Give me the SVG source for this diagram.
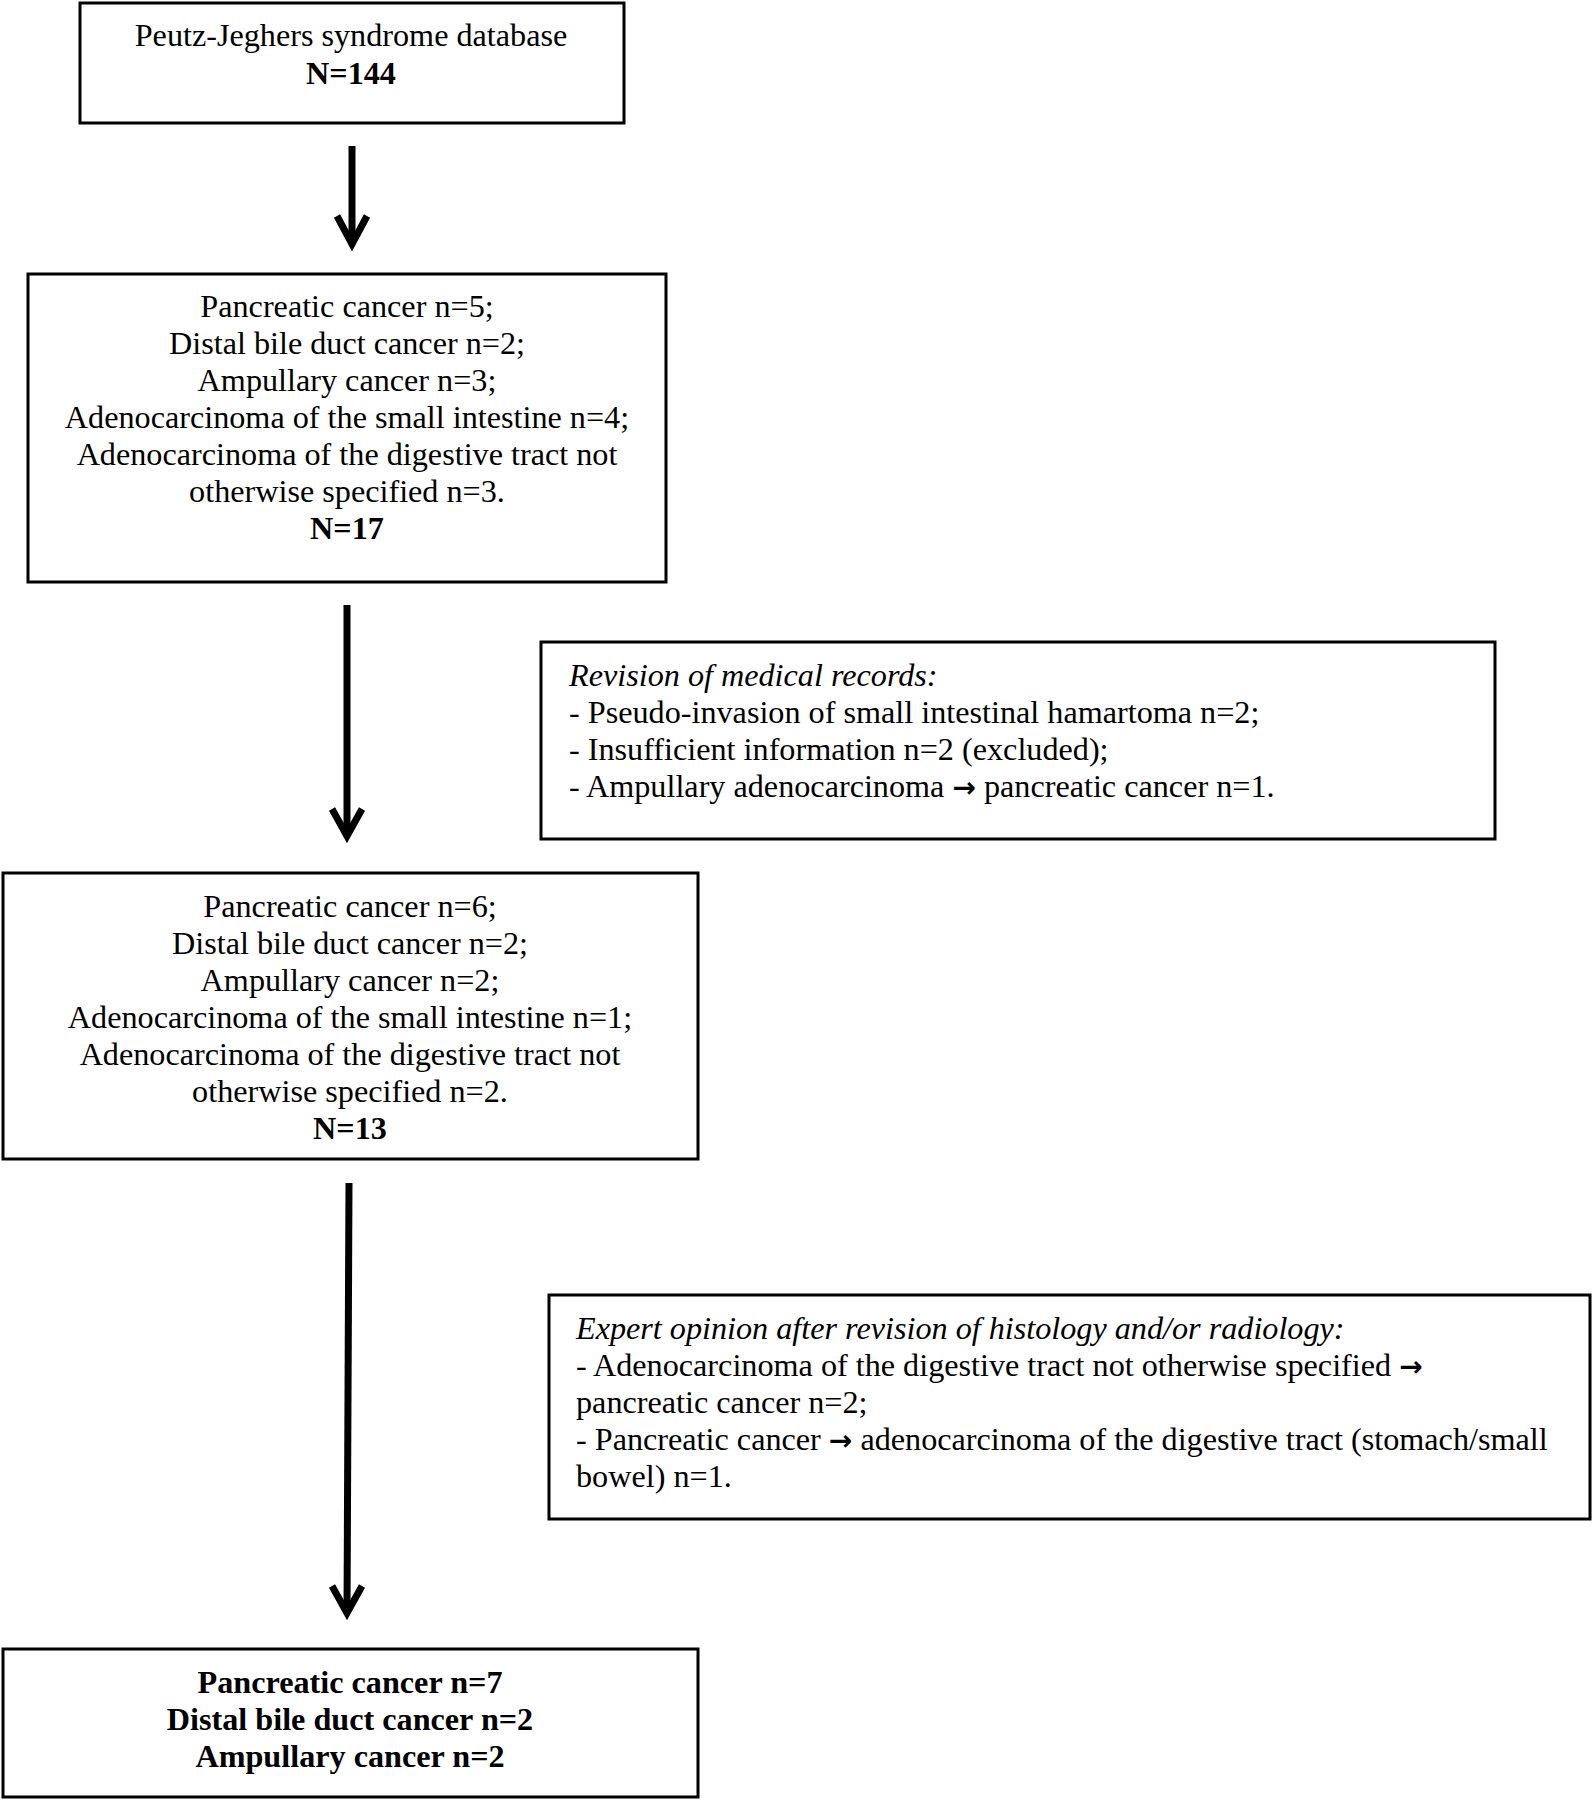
<svg xmlns="http://www.w3.org/2000/svg" width="1593" height="1800" viewBox="0 0 1593 1800">
<style>
.box{fill:#fff;stroke:#000;stroke-width:3}
.t{font-family:"Liberation Serif","Times New Roman",serif;font-size:32.2px;fill:#000}
.c{text-anchor:middle}
.b{font-weight:bold}
.i{font-style:italic}
.ar{font-family:"DejaVu Sans",sans-serif;font-weight:bold;font-size:28px}
.arr{fill:none;stroke:#000;stroke-width:7}
</style>
<rect width="1593" height="1800" fill="#fff"/>
<g id="connectors">
<line class="arr" x1="352" y1="146" x2="352" y2="244"/>
<polyline class="arr" points="337,216 352,244 367,216"/>
<line class="arr" x1="347" y1="605" x2="347" y2="836"/>
<polyline class="arr" points="332,809 347,836 362,809"/>
<line class="arr" x1="349" y1="1183" x2="347" y2="1613"/>
<polyline class="arr" points="332,1586 347,1613 362,1586"/>
</g>
<g id="n1">
<rect class="box" x="80" y="3" width="544" height="120"/>
<text class="t c" x="351" y="46">Peutz-Jeghers syndrome database</text>
<text class="t c b" x="351" y="84">N=144</text>
</g>
<g id="n2">
<rect class="box" x="28" y="274" width="638" height="308"/>
<text class="t c" x="347" y="317">Pancreatic cancer n=5;</text>
<text class="t c" x="347" y="354">Distal bile duct cancer n=2;</text>
<text class="t c" x="347" y="391">Ampullary cancer n=3;</text>
<text class="t c" x="347" y="428">Adenocarcinoma of the small intestine n=4;</text>
<text class="t c" x="347" y="465">Adenocarcinoma of the digestive tract not</text>
<text class="t c" x="347" y="502">otherwise specified n=3.</text>
<text class="t c b" x="347" y="539">N=17</text>
</g>
<g id="n3">
<rect class="box" x="541" y="642" width="954" height="197"/>
<text class="t i" x="569" y="686">Revision of medical records:</text>
<text class="t" x="569" y="723">- Pseudo-invasion of small intestinal hamartoma n=2;</text>
<text class="t" x="569" y="760">- Insufficient information n=2 (excluded);</text>
<text class="t" x="569" y="797">- Ampullary adenocarcinoma <tspan class="ar">→</tspan> pancreatic cancer n=1.</text>
</g>
<g id="n4">
<rect class="box" x="3" y="873" width="695" height="286"/>
<text class="t c" x="350" y="917">Pancreatic cancer n=6;</text>
<text class="t c" x="350" y="954">Distal bile duct cancer n=2;</text>
<text class="t c" x="350" y="991">Ampullary cancer n=2;</text>
<text class="t c" x="350" y="1028">Adenocarcinoma of the small intestine n=1;</text>
<text class="t c" x="350" y="1065">Adenocarcinoma of the digestive tract not</text>
<text class="t c" x="350" y="1102">otherwise specified n=2.</text>
<text class="t c b" x="350" y="1139">N=13</text>
</g>
<g id="n5">
<rect class="box" x="549" y="1295" width="1041" height="224"/>
<text class="t i" x="576" y="1339">Expert opinion after revision of histology and/or radiology:</text>
<text class="t" x="576" y="1376">- Adenocarcinoma of the digestive tract not otherwise specified <tspan class="ar">→</tspan></text>
<text class="t" x="576" y="1413">pancreatic cancer n=2;</text>
<text class="t" x="576" y="1450">- Pancreatic cancer <tspan class="ar">→</tspan> adenocarcinoma of the digestive tract (stomach/small</text>
<text class="t" x="576" y="1487">bowel) n=1.</text>
</g>
<g id="n6">
<rect class="box" x="3" y="1649" width="695" height="148"/>
<text class="t c b" x="350" y="1693">Pancreatic cancer n=7</text>
<text class="t c b" x="350" y="1730">Distal bile duct cancer n=2</text>
<text class="t c b" x="350" y="1767">Ampullary cancer n=2</text>
</g>
</svg>
